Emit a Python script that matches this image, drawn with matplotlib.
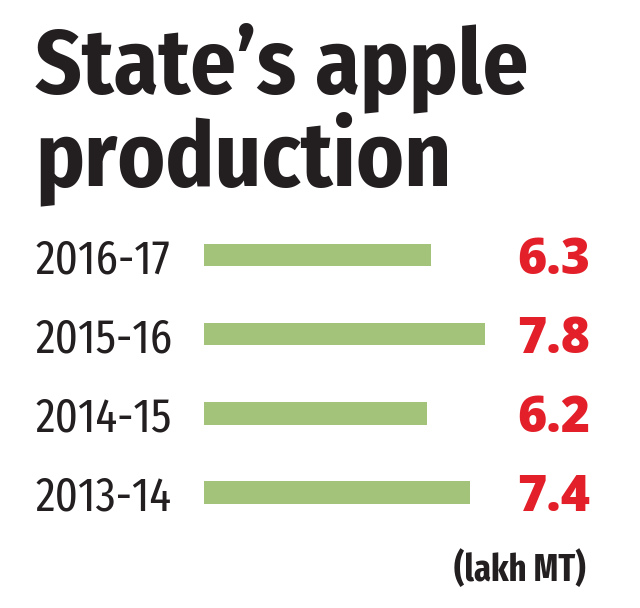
import matplotlib.pyplot as plt
import matplotlib.transforms as mtransforms

# dados
anos = ["2013-14", "2014-15", "2015-16", "2016-17"]
producao = [7.4, 6.2, 7.8, 6.3]
unidade = "(lakh MT)"
titulo = ["State’s apple", "production"]

verde = "#a3c27a"
vermelho = "#e3202a"
preto = "#231f20"
fonte = ["Fira Sans Condensed", "DejaVu Sans"]
fonte_estreita = ["Fira Sans Extra Condensed", "DejaVu Sans"]
fonte_valor = ["Open Sans", "DejaVu Sans"]

fig = plt.figure(figsize=(6.4, 6.08), dpi=100)
ax = fig.add_axes([204 / 640, 0.125, 360 / 640, 0.52])
ax.barh(range(len(anos)), producao, height=0.28, color=verde)
ax.set_xlim(0, 10)
ax.set_ylim(-0.5, len(anos) - 0.5)
ax.axis("off")

trans = mtransforms.blended_transform_factory(fig.transFigure, ax.transData)
for i, (ano, val) in enumerate(zip(anos, producao)):
    ax.text(35 / 640, i, ano, transform=trans, ha="left", va="center_baseline",
            fontsize=35, fontweight=400, color=preto, family=fonte_estreita)
    ax.text(590 / 640, i, f"{val:.1f}", transform=trans, ha="right", va="center_baseline",
            fontsize=36, fontweight=800, color=vermelho, family=fonte_valor)

# título em duas linhas
fig.text(35 / 640, 1 - 92 / 608, titulo[0], ha="left", va="baseline", fontsize=65,
         fontweight="bold", color=preto, family=fonte)
fig.text(35 / 640, 1 - 185 / 608, titulo[1], ha="left", va="baseline", fontsize=65,
         fontweight="bold", color=preto, family=fonte)

fig.text(586 / 640, 1 - 581 / 608, unidade, ha="right", va="baseline", fontsize=27,
         fontweight="bold", color=preto, family=fonte_estreita)

fig.savefig("out.png", dpi=100)
